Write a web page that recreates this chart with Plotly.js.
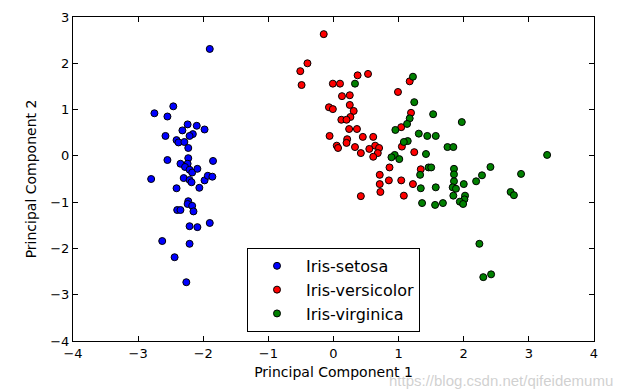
<!DOCTYPE html>
<html>
<head>
<meta charset="utf-8">
<script src="https://cdn.plot.ly/plotly-3.0.1.min.js"></script>
<style>html,body{margin:0;padding:0;background:#fff;}#chart{width:625px;height:390px;}</style>
</head>
<body>
<div id="chart"></div>
<script>
const categories = ["Iris-setosa", "Iris-versicolor", "Iris-virginica"];
const colors = ["#0000ff", "#ff0000", "#008000"];

const setosaX = [-1.90,-2.46,-2.75,-2.55,-2.24,-2.10,-1.98,-2.32,-2.16,-2.21,-2.58,-2.41,-2.38,-2.29,-2.23,-2.55,-2.23,-2.35,-2.24,-1.85,-2.28,-2.21,-2.17,-2.09,-2.80,-2.30,-2.21,-2.18,-1.98,-1.93,-1.86,-2.41,-2.06,-2.23,-2.24,-2.17,-2.40,-2.35,-2.15,-1.90,-2.21,-2.09,-2.63,-2.21,-2.44,-2.26];
const setosaY = [2.31,1.07,0.92,0.85,0.68,0.65,0.57,0.55,0.47,0.43,0.43,0.34,0.29,0.30,0.17,-0.09,-0.05,-0.17,-0.17,-0.11,-0.24,-0.30,-0.36,-0.28,-0.50,-0.48,-0.52,-0.57,-0.53,-0.43,-0.45,-0.70,-0.69,-0.98,-1.04,-1.08,-1.17,-1.17,-1.20,-1.45,-1.52,-1.54,-1.84,-1.90,-2.19,-2.73];

const versicolorX = [-0.15,-0.40,-0.51,-0.49,-0.01,0.10,0.37,0.53,0.13,0.25,-0.07,-0.01,0.25,0.31,0.26,0.12,0.20,0.24,0.36,-0.06,0.45,0.61,0.21,0.20,0.05,0.07,0.33,0.64,0.70,0.55,0.42,0.68,0.61,0.71,0.71,0.72,0.42,1.17,0.99,1.19,1.04,1.05,1.24,0.86,1.34,0.85,1.04,1.22,1.08];
const versicolorY = [2.63,2.00,1.83,1.53,1.56,1.56,1.74,1.77,1.29,1.31,1.05,1.01,1.10,0.97,0.84,0.78,0.78,0.58,0.58,0.43,0.41,0.41,0.36,0.28,0.22,0.17,0.19,0.22,0.17,0.15,0.06,0.06,-0.02,-0.41,-0.61,-0.78,-0.87,1.61,1.38,0.93,0.62,0.20,0.08,-0.25,-0.29,-0.53,-0.53,-0.61,-0.86];

const virginicaX = [0.33,1.22,1.24,1.53,1.97,1.17,1.13,0.95,1.31,1.44,1.57,1.14,1.08,1.42,1.75,1.84,0.94,0.89,1.01,1.46,1.50,1.85,1.33,1.85,1.85,1.34,1.57,1.83,1.88,2.00,2.19,1.84,2.02,2.01,1.94,1.99,1.36,1.56,1.68,2.24,3.28,2.41,2.28,2.88,2.72,2.77,2.30,2.42];
const virginicaY = [1.56,1.71,1.16,0.90,0.73,0.81,0.69,0.56,0.48,0.43,0.43,0.32,0.30,0.04,0.19,0.19,0.02,-0.03,-0.07,-0.25,-0.25,-0.28,-0.41,-0.40,-0.55,-0.70,-0.68,-0.68,-0.71,-0.61,-0.55,-0.86,-0.86,-0.94,-0.99,-1.04,-1.02,-1.06,-1.02,-1.90,0.02,-0.24,-0.42,-0.39,-0.78,-0.85,-2.62,-2.56];

const xTicks = [-4,-3,-2,-1,0,1,2,3,4];
const yTicks = [-4,-3,-2,-1,0,1,2,3];

const seriesX = [setosaX, versicolorX, virginicaX];
const seriesY = [setosaY, versicolorY, virginicaY];

const traces = categories.map((name, i) => ({
  type: "scatter",
  mode: "markers",
  name: name,
  x: seriesX[i],
  y: seriesY[i],
  marker: {color: colors[i], size: 7, line: {color: "#000000", width: 1}},
  cliponaxis: false
}));

const font = {family: "DejaVu Sans", color: "#000000", size: 13};
const titleFont = {family: "DejaVu Sans", color: "#000000", size: 14};
const axisCommon = {
  showline: true, linecolor: "#000000", linewidth: 1, mirror: "allticks",
  ticks: "inside", ticklen: 5, tickwidth: 1, tickcolor: "#000000",
  showgrid: false, zeroline: false, tickfont: font
};

const layout = {
  width: 625, height: 390,
  margin: {l: 73, r: 31, t: 17, b: 49},
  paper_bgcolor: "#ffffff", plot_bgcolor: "#ffffff",
  font: font,
  showlegend: true,
  xaxis: Object.assign({}, axisCommon, {
    range: [-4, 4], tickvals: xTicks, ticktext: xTicks.map(v => v < 0 ? "\u2212" + Math.abs(v) : String(v)),
    title: {text: "Principal Component 1", font: titleFont, standoff: 7}
  }),
  yaxis: Object.assign({}, axisCommon, {
    range: [-4, 3], tickvals: yTicks, ticktext: yTicks.map(v => v < 0 ? "\u2212" + Math.abs(v) : String(v)),
    title: {text: "Principal Component 2", font: titleFont, standoff: 10}
  }),
  legend: {
    x: 0.334, y: 0.028, xanchor: "left", yanchor: "bottom",
    bgcolor: "#ffffff", bordercolor: "#000000", borderwidth: 1,
    font: {family: "DejaVu Sans", size: 16, color: "#000000"},
    itemwidth: 48, tracegroupgap: 0
  },
  annotations: [{
    xref: "paper", yref: "paper", x: 1.04, y: -0.09, xanchor: "right", yanchor: "top",
    text: "https://blog.csdn.net/qifeidemumu", showarrow: false,
    font: {family: "Liberation Sans", size: 15, color: "rgba(200,200,200,0.85)"}
  }]
};

Plotly.newPlot("chart", traces, layout, {displayModeBar: false, staticPlot: true});
</script>
</body>
</html>
